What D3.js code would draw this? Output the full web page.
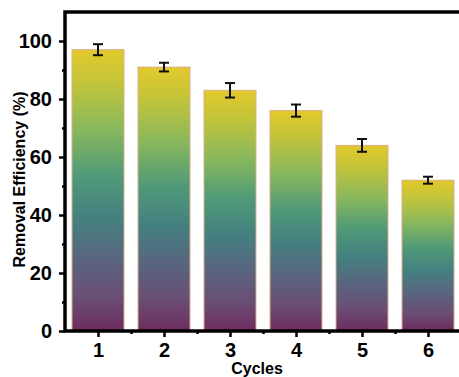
<!DOCTYPE html>
<html>
<head>
<meta charset="utf-8">
<script src="https://cdn.jsdelivr.net/npm/d3@7"></script>
<style>
body{margin:0;background:#fff;}
svg text{font-family:Arial,"Liberation Sans",sans-serif;font-weight:bold;}
svg .tick text{font-size:20px;}
</style>
</head>
<body>
<div id="chart"></div>
<script>
var cycles=[1,2,3,4,5,6];
var efficiency=[97,91,83,76,64,52];
var errors=[1.9,1.5,2.5,2.1,2.2,1.2];
var yTicks=[0,20,40,60,80,100];

var width=459,height=377;
var mLeft=65,mRight=461,mTop=12,mBottom=331;

var svg=d3.select("#chart").append("svg")
	.attr("width",width)
	.attr("height",height);

var x=d3.scaleLinear().domain([0.5,6.5]).range([mLeft,mRight]);
var y=d3.scaleLinear().domain([0,110]).range([mBottom,mTop]);

// per-bar gradient, yellow at the top down to purple
var grad=svg.append("defs").append("linearGradient")
	.attr("id","barGrad")
	.attr("x1",0).attr("y1",0).attr("x2",0).attr("y2",1);
var stops=[[0,"#e3c92c"],[0.12,"#c2c43a"],[0.28,"#8ab85c"],[0.45,"#4f9a78"],[0.6,"#448080"],[0.75,"#5a647f"],[0.88,"#6a4e74"],[1,"#6d2c5e"]];
grad.selectAll("stop").data(stops).enter().append("stop")
	.attr("offset",function(d){return d[0];})
	.attr("stop-color",function(d){return d[1];});

var bw=52;
svg.selectAll(".bar").data(cycles).enter().append("rect")
	.attr("class","bar")
	.attr("x",function(d){return x(d)-bw/2;})
	.attr("y",function(d,i){return y(efficiency[i]);})
	.attr("width",bw)
	.attr("height",function(d,i){return y(0)-y(efficiency[i]);})
	.style("fill","url(#barGrad)")
	.style("stroke","#d8b08a")
	.style("stroke-width",1);

// error bars
var eb=svg.selectAll(".err").data(cycles).enter().append("g")
	.style("stroke","#111").style("stroke-width",2);
eb.append("line")
	.attr("x1",function(d){return x(d);}).attr("x2",function(d){return x(d);})
	.attr("y1",function(d,i){return y(efficiency[i]+errors[i]);})
	.attr("y2",function(d,i){return y(efficiency[i]-errors[i]);});
eb.append("line")
	.attr("x1",function(d){return x(d)-5;}).attr("x2",function(d){return x(d)+5;})
	.attr("y1",function(d,i){return y(efficiency[i]+errors[i]);})
	.attr("y2",function(d,i){return y(efficiency[i]+errors[i]);});
eb.append("line")
	.attr("x1",function(d){return x(d)-5;}).attr("x2",function(d){return x(d)+5;})
	.attr("y1",function(d,i){return y(efficiency[i]-errors[i]);})
	.attr("y2",function(d,i){return y(efficiency[i]-errors[i]);});

// y axis
svg.append("g")
	.attr("transform","translate("+mLeft+",0)")
	.call(d3.axisLeft(y).tickValues(yTicks).tickSize(6).tickPadding(7));
svg.append("g")
	.attr("transform","translate("+mLeft+",0)")
	.call(d3.axisLeft(y).tickValues([10,30,50,70,90]).tickSize(3).tickFormat(""));

// x axis
svg.append("g")
	.attr("transform","translate(0,"+mBottom+")")
	.call(d3.axisBottom(x).tickValues(cycles).tickSize(6).tickPadding(6).tickFormat(d3.format("d")));
svg.append("g")
	.attr("transform","translate(0,"+mBottom+")")
	.call(d3.axisBottom(x).tickValues([1.5,2.5,3.5,4.5,5.5]).tickSize(3).tickFormat(""));

svg.selectAll(".tick line").style("stroke","#000").style("stroke-width",2.5);
svg.selectAll(".domain").remove();
svg.selectAll(".tick text").attr("fill","#000");

// frame
svg.append("rect")
	.attr("x",mLeft).attr("y",mTop)
	.attr("width",mRight-mLeft).attr("height",mBottom-mTop)
	.style("fill","none")
	.style("stroke","#000")
	.style("stroke-width",3.5);

svg.append("text")
	.attr("transform","translate(25,"+((mTop+mBottom)/2+8)+") rotate(-90)")
	.attr("text-anchor","middle")
	.style("font-size","16px")
	.text("Removal Efficiency (%)");

svg.append("text")
	.attr("x",257)
	.attr("y",374)
	.attr("text-anchor","middle")
	.style("font-size","16px")
	.text("Cycles");
</script>
</body>
</html>
